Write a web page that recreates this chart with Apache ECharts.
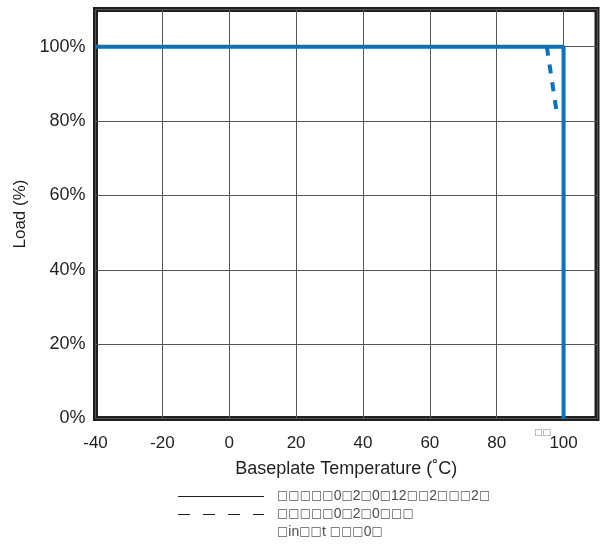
<!DOCTYPE html>
<html><head><meta charset="utf-8">
<script src="https://cdn.jsdelivr.net/npm/echarts@6/dist/echarts.min.js"></script>
<style>html,body{margin:0;padding:0;background:#fff}#c{width:600px;height:544px}</style>
</head><body><div id="c"></div>
<script>
const xTicks = [-40, -20, 0, 20, 40, 60, 80, 100];
const yTicks = [0, 20, 40, 60, 80, 100];
const solidCurve = [[-40, 100], [100, 100], [100, 0]];
const dashedCurve = [[95, 100], [98, 82]];
const legendTexts = ['□□□□□0□2□0□12□□2□□□2□', '□□□□□0□2□0□□□', '□in□□t □□□0□'];
const xName = 'Baseplate Temperature (˚C)';
const yName = 'Load (%)';
const noteText = '□□';

const toRich = s => s.split(/(□+)/).filter(p => p.length).map(p => p[0] === '□' ? '{b|' + p + '}' : '{n|' + p + '}').join('');

const chart = echarts.init(document.getElementById('c'));
const ink = '#231f20';
const blue = '#0a72ba';
const legendStyle = (txt) => ({
  text: toRich(txt), fontSize: 14, fill: '#4a4a4a', fontFamily: 'Liberation Sans', verticalAlign: 'middle',
  rich: {
    b: { fontSize: 12, fill: '#5a5a5a', fontFamily: 'DejaVu Sans', verticalAlign: 'middle' },
    n: { fontSize: 14, fill: '#4a4a4a', fontFamily: 'Liberation Sans', verticalAlign: 'middle' }
  }
});
chart.setOption({
  animation: false,
  grid: { left: 95.5, top: 9.5, width: 501.5, height: 409, show: true, borderColor: ink, borderWidth: 5, backgroundColor: 'transparent' },
  xAxis: {
    type: 'value', min: -40, max: 110, interval: 20,
    name: xName, nameLocation: 'middle', nameGap: 42,
    nameTextStyle: { fontFamily: 'Liberation Sans', fontSize: 18, color: ink },
    axisLine: { show: false }, axisTick: { show: false },
    axisLabel: { fontFamily: 'Liberation Sans', fontSize: 17, color: ink, margin: 16,
      formatter: v => xTicks.includes(v) ? String(v) : '' },
    splitLine: { show: true, lineStyle: { color: '#555', width: 1 } }
  },
  yAxis: {
    type: 'value', min: 0, max: 110, interval: 20,
    name: yName, nameLocation: 'middle', nameGap: 66,
    nameTextStyle: { fontFamily: 'Liberation Sans', fontSize: 17, color: ink },
    axisLine: { show: false }, axisTick: { show: false },
    axisLabel: { fontFamily: 'Liberation Sans', fontSize: 18, color: ink, margin: 10,
      formatter: v => yTicks.includes(v) ? v + '%' : '' },
    splitLine: { show: true, lineStyle: { color: '#555', width: 1 } }
  },
  series: [
    { type: 'line', data: solidCurve, symbol: 'none', lineStyle: { color: blue, width: 4 }, z: 3 },
    { type: 'line', data: dashedCurve, symbol: 'none', lineStyle: { color: blue, width: 4, type: [9, 9] }, z: 3 }
  ],
  graphic: [
    { type: 'text', left: 534, top: 428, style: { text: noteText, fontSize: 9, fill: '#888', fontFamily: 'DejaVu Sans' } },
    { type: 'line', shape: { x1: 178, y1: 496.5, x2: 264, y2: 496.5 }, style: { stroke: ink, lineWidth: 1 } },
    { type: 'line', shape: { x1: 178, y1: 514.5, x2: 264, y2: 514.5 }, style: { stroke: ink, lineWidth: 1, lineDash: [12, 13] } },
    { type: 'text', x: 277, y: 496, style: legendStyle(legendTexts[0]) },
    { type: 'text', x: 277, y: 514, style: legendStyle(legendTexts[1]) },
    { type: 'text', x: 277, y: 532, style: legendStyle(legendTexts[2]) }
  ]
});
</script></body></html>
